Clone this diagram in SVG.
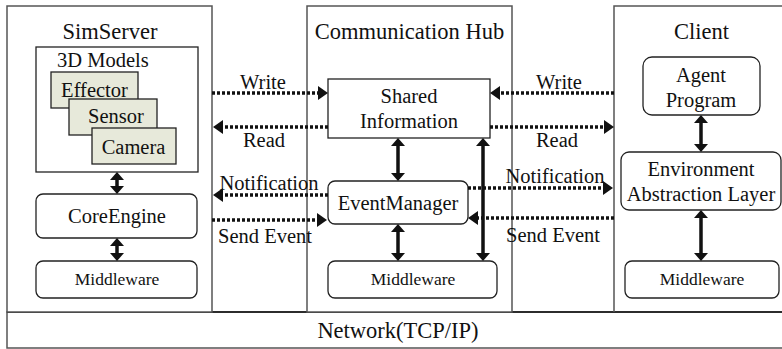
<svg xmlns="http://www.w3.org/2000/svg" width="782" height="349" viewBox="0 0 782 349" font-family="'Liberation Serif', 'Times New Roman', serif">
  <style>
    text { font-family: "Liberation Serif", "Times New Roman", serif; fill: #111; }
    .title { font-size: 22.5px; text-anchor: middle; }
    .lbl { font-size: 20.5px; text-anchor: middle; }
    .mw { font-size: 17.5px; text-anchor: middle; }
    .frame { fill: #fff; stroke: #555; stroke-width: 1.5; }
    .box { fill: #fff; stroke: #222; stroke-width: 1.3; }
    .part { fill: #e7e9da; stroke: #222; stroke-width: 1.3; }
    .dotted { fill: none; stroke: #111; stroke-width: 3.5; stroke-dasharray: 3 2; marker-end: url(#head); }
    .solid { fill: none; stroke: #111; stroke-width: 3.5; marker-start: url(#vhead); marker-end: url(#vhead); }
  </style>
  <defs>
    <marker id="head" viewBox="0 0 10 14" refX="2" refY="7" markerWidth="10" markerHeight="14" markerUnits="userSpaceOnUse" orient="auto">
      <path d="M0,0 L10,7 L0,14 z" fill="#111"/>
    </marker>
    <marker id="vhead" viewBox="0 0 8 14" refX="2" refY="7" markerWidth="8" markerHeight="14" markerUnits="userSpaceOnUse" orient="auto-start-reverse">
      <path d="M0,0 L8,7 L0,14 z" fill="#111"/>
    </marker>
  </defs>

  <rect width="782" height="349" fill="#fff"/>

  <!-- network layer -->
  <g id="network">
    <rect class="frame" x="7" y="312" width="776" height="36"/>
    <line x1="7" y1="312" x2="782" y2="312" stroke="#111" stroke-width="1.5"/>
    <text class="title" x="398" y="338">Network(TCP/IP)</text>
  </g>

  <!-- SimServer -->
  <g id="simserver">
    <rect class="frame" x="7" y="6" width="205" height="306"/>
    <text class="title" x="110" y="39">SimServer</text>
  </g>
  <g id="models">
    <rect class="box" x="36" y="47" width="162" height="125"/>
    <text class="lbl" x="57" y="67" style="text-anchor:start">3D Models</text>
  </g>
  <g id="effector">
    <rect class="part" x="51" y="72" width="87" height="36"/>
    <text class="lbl" x="94.5" y="97">Effector</text>
  </g>
  <g id="sensor">
    <rect class="part" x="69" y="99" width="88" height="36"/>
    <text class="lbl" x="116" y="123">Sensor</text>
  </g>
  <g id="camera">
    <rect class="part" x="92" y="128" width="84" height="36"/>
    <text class="lbl" x="133.5" y="154">Camera</text>
  </g>
  <g id="core-engine">
    <rect class="box" x="36" y="194" width="161" height="44" rx="7"/>
    <text class="lbl" x="117" y="223">CoreEngine</text>
  </g>
  <g id="sim-middleware">
    <rect class="box" x="36" y="261" width="161" height="37" rx="7"/>
    <text class="mw" x="117" y="285">Middleware</text>
  </g>

  <!-- Communication Hub -->
  <g id="hub">
    <rect class="frame" x="307" y="6" width="205" height="306"/>
    <text class="title" x="409.5" y="39">Communication Hub</text>
  </g>
  <g id="shared-info">
    <rect class="box" x="328" y="79" width="162" height="59"/>
    <text class="lbl" x="409" y="103">Shared</text>
    <text class="lbl" x="409" y="128">Information</text>
  </g>
  <g id="event-manager">
    <rect class="box" x="328" y="181" width="140" height="43" rx="7"/>
    <text class="lbl" x="398" y="210">EventManager</text>
  </g>
  <g id="hub-middleware">
    <rect class="box" x="328" y="261" width="169" height="37" rx="7"/>
    <text class="mw" x="413" y="285">Middleware</text>
  </g>

  <!-- Client -->
  <g id="client">
    <path d="M614,312 V6 H782" fill="none" stroke="#555" stroke-width="1.5"/>
    <text class="title" x="701.5" y="39">Client</text>
  </g>
  <g id="agent-program">
    <rect class="box" x="643" y="57" width="117" height="58" rx="9"/>
    <text class="lbl" x="701" y="82">Agent</text>
    <text class="lbl" x="701" y="107">Program</text>
  </g>
  <g id="env-layer">
    <rect class="box" x="621" y="152" width="160" height="58" rx="8"/>
    <text class="lbl" x="701" y="176">Environment</text>
    <text class="lbl" x="701" y="201">Abstraction Layer</text>
  </g>
  <g id="client-middleware">
    <rect class="box" x="625" y="261" width="154" height="37" rx="7"/>
    <text class="mw" x="702" y="285">Middleware</text>
  </g>

  <!-- connectors -->
  <g id="connectors">
    <path class="dotted" d="M212,93 H320"/>
    <path class="dotted" d="M328,127 H221"/>
    <path class="dotted" d="M614,93 H498"/>
    <path class="dotted" d="M490,127 H606"/>
    <path class="dotted" d="M328,195 H221"/>
    <path class="dotted" d="M212,220 H319"/>
    <path class="dotted" d="M468,188 H605"/>
    <path class="dotted" d="M614,218 H476"/>

    <path class="solid" d="M117,178 V188"/>
    <path class="solid" d="M117,244 V255"/>
    <path class="solid" d="M398,144 V175"/>
    <path class="solid" d="M398,230 V255"/>
    <path class="solid" d="M483,144 V255"/>
    <path class="solid" d="M701,121 V146"/>
    <path class="solid" d="M701,216 V255"/>

    <text class="lbl" x="263" y="89">Write</text>
    <text class="lbl" x="264" y="147">Read</text>
    <text class="lbl" x="559" y="89">Write</text>
    <text class="lbl" x="557" y="147">Read</text>
    <text class="lbl" x="269" y="190">Notification</text>
    <text class="lbl" x="265" y="243">Send Event</text>
    <text class="lbl" x="555" y="183">Notification</text>
    <text class="lbl" x="553" y="242">Send Event</text>
  </g>
</svg>
